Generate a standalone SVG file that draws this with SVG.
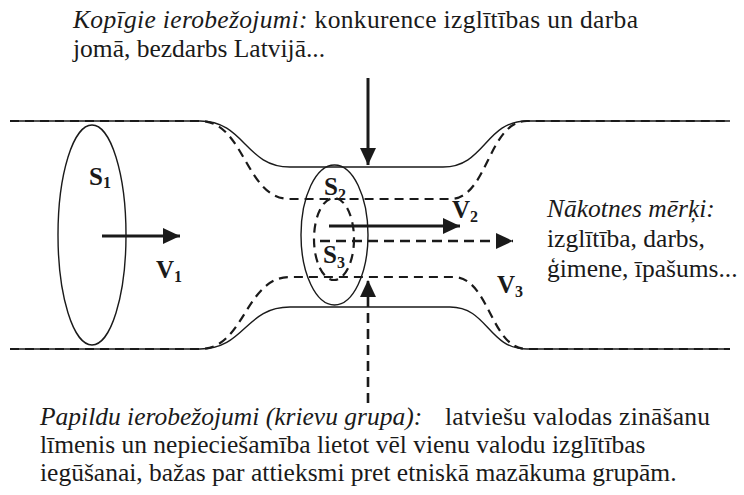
<svg xmlns="http://www.w3.org/2000/svg" width="744" height="495" viewBox="0 0 744 495">
<style>
.txt{font-family:'Liberation Serif','Times New Roman',serif;font-size:25.5px;fill:#1a1a1a}
.it{font-style:italic}
.lbl{font-family:'Liberation Serif','Times New Roman',serif;font-weight:bold;font-size:25px;fill:#1a1a1a}
.sub{font-size:16px}
.solid{fill:none;stroke:#1a1a1a;stroke-width:1.4}
.dash{fill:none;stroke:#1a1a1a;stroke-width:2.2;stroke-dasharray:9 6}
.arr{fill:none;stroke:#1a1a1a;stroke-width:3}
.arrd{fill:none;stroke:#1a1a1a;stroke-width:2.6;stroke-dasharray:10 6}
</style>
<defs>
<marker id="ah" markerUnits="userSpaceOnUse" markerWidth="18" markerHeight="16" refX="17" refY="8" orient="auto">
<path d="M0,0 L17,8 L0,16 z" fill="#1a1a1a"/>
</marker>
</defs>
<rect width="744" height="495" fill="#ffffff"/>
<g id="pipe">
<path class="solid" d="M10,121 L200,121 C245,121 245,167 290,167 L443,167 C485,167 485,121 527,121 L730,121"/>
<path class="solid" d="M10,349 L200,349 C245,349 245,307 290,307 L450,307 C488,307 488,349 527,349 L730,349"/>
<path class="dash" d="M10,121 L200,121 C245,121 245,199 290,199 L450,199 C488,199 488,121 527,121 L730,121"/>
<path class="dash" d="M10,349 L200,349 C245,349 245,277 290,277 L453,277 C490,277 490,349 527,349 L730,349"/>
</g>
<g id="S1">
<ellipse class="solid" cx="92" cy="235" rx="34" ry="110"/>
<text class="lbl" x="89" y="185">S<tspan class="sub" dy="3">1</tspan></text>
</g>
<g id="S2">
<ellipse class="solid" cx="334.5" cy="235" rx="33.5" ry="70"/>
<text class="lbl" x="324" y="195">S<tspan class="sub" dy="5">2</tspan></text>
</g>
<g id="S3">
<ellipse class="dash" cx="334" cy="239" rx="20" ry="41"/>
<text class="lbl" x="323" y="263">S<tspan class="sub" dy="5">3</tspan></text>
</g>
<g id="connectors">
<line class="arr" x1="102" y1="236" x2="180" y2="236" marker-end="url(#ah)"/>
<line class="arr" x1="329" y1="226" x2="460" y2="226" marker-end="url(#ah)"/>
<line class="arrd" x1="320" y1="241" x2="513" y2="241" marker-end="url(#ah)"/>
<line class="arr" x1="368" y1="78" x2="368" y2="165" marker-end="url(#ah)"/>
<line class="arrd" x1="368" y1="403" x2="368" y2="280" marker-end="url(#ah)"/>
</g>
<g id="velocity-labels">
<text class="lbl" x="156" y="278">V<tspan class="sub" dy="4">1</tspan></text>
<text class="lbl" x="452" y="218">V<tspan class="sub" dy="4">2</tspan></text>
<text class="lbl" x="497" y="293">V<tspan class="sub" dy="4">3</tspan></text>
</g>
<g id="common-constraints">
<text class="txt" x="73" y="28" textLength="565"><tspan class="it">Kopīgie ierobežojumi:</tspan> konkurence izglītības un darba</text>
<text class="txt" x="73" y="57">jomā, bezdarbs Latvijā...</text>
</g>
<g id="future-goals">
<text class="txt" x="547" y="217"><tspan class="it">Nākotnes mērķi:</tspan></text>
<text class="txt" x="547" y="247">izglītība, darbs,</text>
<text class="txt" x="547" y="277">ģimene, īpašums...</text>
</g>
<g id="additional-constraints">
<text class="txt" x="40" y="425"><tspan class="it">Papildu ierobežojumi (krievu grupa):</tspan></text>
<text class="txt" x="445" y="425" textLength="265">latviešu valodas zināšanu</text>
<text class="txt" x="40" y="453">līmenis un nepieciešamība lietot vēl vienu valodu izglītības</text>
<text class="txt" x="40" y="481">iegūšanai, bažas par attieksmi pret etniskā mazākuma grupām.</text>
</g>
</svg>
